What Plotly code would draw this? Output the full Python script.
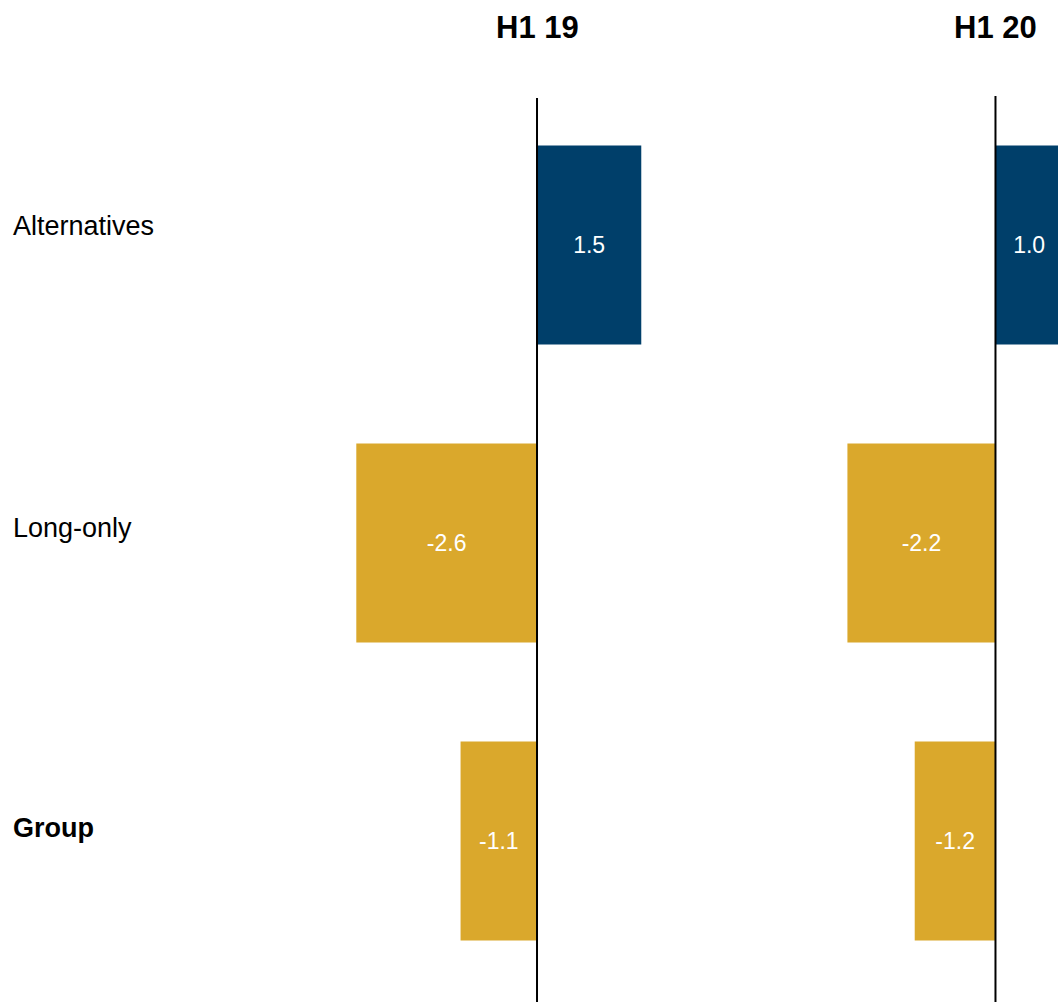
import plotly.graph_objects as go

# ---- data ----
categories = ["Alternatives", "Long-only", "Group"]
category_labels = ["Alternatives", "Long-only", "<b>Group</b>"]
h1_19 = [1.5, -2.6, -1.1]
h1_20 = [1.0, -2.2, -1.2]
panel_titles = ["H1 19", "H1 20"]

NAVY = "#003F6A"
GOLD = "#DAA82C"
FONT = "Liberation Sans, Arial, sans-serif"
W, H = 1058, 1002


def bar_colors(vals):
    return [NAVY if v >= 0 else GOLD for v in vals]


fig = go.Figure()
for vals, xa in [(h1_19, "x"), (h1_20, "x2")]:
    fig.add_trace(go.Bar(
        y=categories, x=vals, orientation="h", xaxis=xa, yaxis="y",
        marker=dict(color=bar_colors(vals), line=dict(width=0)),
        width=0.668,
        text=[f"{v:.1f}" for v in vals],
        textposition="inside", insidetextanchor="middle",
        textfont=dict(color="white", size=23, family=FONT),
        showlegend=False, hoverinfo="skip",
    ))

axis_common = dict(showticklabels=False, showgrid=False, zeroline=False,
                   showline=False, ticks="", fixedrange=True)

fig.update_layout(
    width=W, height=H, autosize=False,
    margin=dict(l=0, r=0, t=0, b=0, pad=0),
    paper_bgcolor="white", plot_bgcolor="white",
    font=dict(family=FONT, color="black"),
    xaxis=dict(domain=[300 / W, 700 / W], range=[-3.410, 2.345], **axis_common),
    xaxis2=dict(domain=[760 / W, 1.0], range=[-3.499, 0.929], anchor="y", **axis_common),
    yaxis=dict(domain=[0, 1], range=[2.540, -0.822], type="category",
               categoryorder="array", categoryarray=categories, **axis_common),
    shapes=[
        dict(type="line", xref="x", yref="paper", x0=0, x1=0, y0=0, y1=(H - 98) / H,
             line=dict(color="black", width=2), layer="above"),
        dict(type="line", xref="x2", yref="paper", x0=0, x1=0, y0=0, y1=(H - 96) / H,
             line=dict(color="black", width=2), layer="above"),
    ],
)

for title, xr in zip(panel_titles, ["x", "x2"]):
    fig.add_annotation(x=0, xref=xr, y=1 - 27 / H, yref="paper", text=f"<b>{title}</b>",
                       showarrow=False, xanchor="center", yanchor="middle",
                       font=dict(size=31, family=FONT, color="black"))

for cat, lab, shift in zip(categories, category_labels, [19, 15, 13]):
    fig.add_annotation(x=11 / W, xref="paper", y=cat, yref="y", yshift=shift, text=lab,
                       showarrow=False, xanchor="left", yanchor="middle",
                       font=dict(size=27, family=FONT, color="black"))

fig.write_html(
    "out.html",
    config={"displayModeBar": False, "staticPlot": True},
    post_script="document.body.style.margin='0';document.body.style.padding='0';",
)
